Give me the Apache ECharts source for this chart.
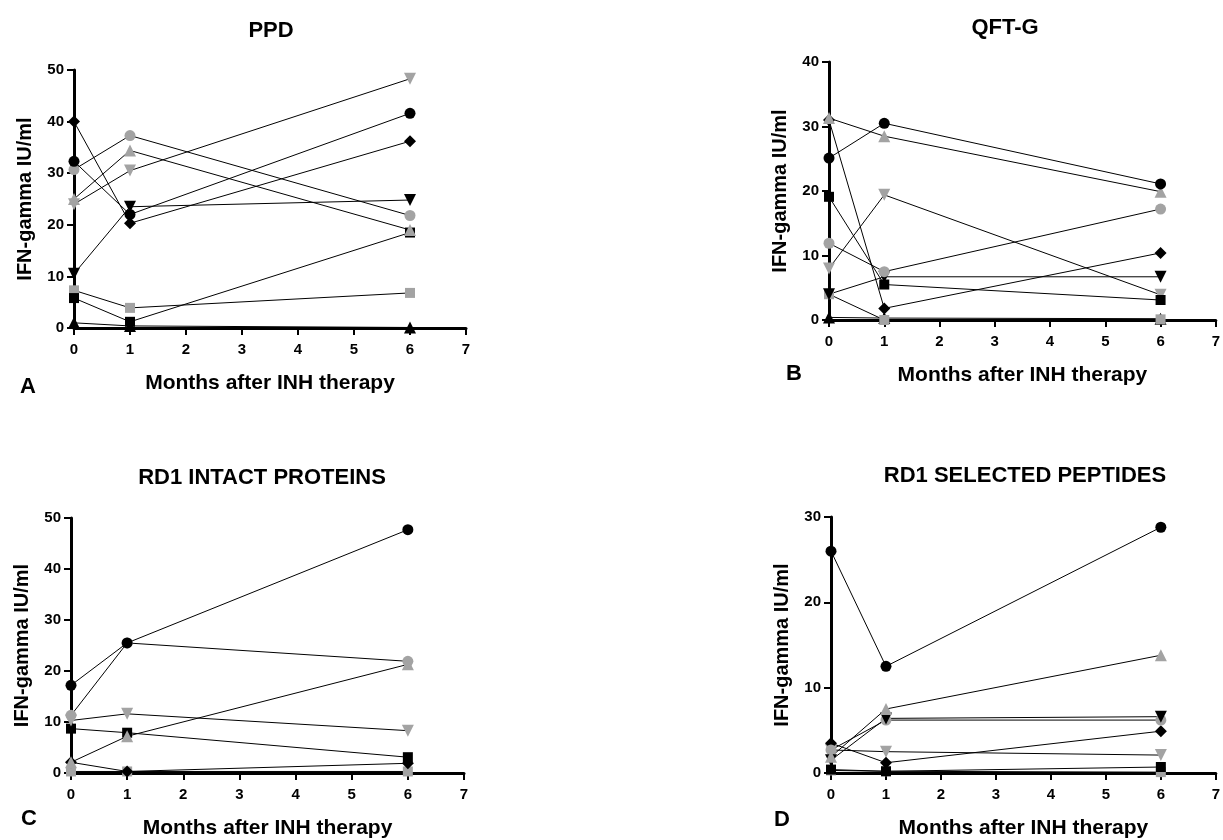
<!DOCTYPE html>
<html>
<head>
<meta charset="utf-8">
<script src="https://cdn.jsdelivr.net/npm/echarts@6/dist/echarts.min.js"></script>
<style>html,body{margin:0;padding:0;background:#fff}#c{width:1223px;height:840px}</style>
</head>
<body>
<div id="c"></div>
<script>
// ---- data ----
const months = [0, 1, 6];
const xTicks = [0, 1, 2, 3, 4, 5, 6, 7];
const panelTitles = ['PPD', 'QFT-G', 'RD1 INTACT PROTEINS', 'RD1 SELECTED PEPTIDES'];
const panelLetters = ['A', 'B', 'C', 'D'];
const yMax = [50, 40, 50, 30];
const xName = 'Months after INH therapy';
const yName = 'IFN-gamma IU/ml';

// Panel A: PPD
const ppdBlackCircle  = [32.3, 22.0, 41.6];
const ppdBlackDiamond = [40.0, 20.3, 36.2];
const ppdBlackInvTri  = [10.5, 23.5, 24.8];
const ppdBlackSquare  = [5.8, 1.2, 18.5];
const ppdBlackTri     = [1.0, 0.4, 0.1];
const ppdGrayCircle   = [30.7, 37.3, 21.8];
const ppdGrayTri      = [25.0, 34.4, 19.0];
const ppdGrayInvTri   = [24.0, 30.5, 48.3];
const ppdGraySquare   = [7.3, 3.9, 6.8];

// Panel B: QFT-G
const qftBlackCircle  = [25.1, 30.5, 21.1];
const qftGrayTri      = [31.3, 28.5, 19.9];
const qftBlackDiamond = [31.0, 1.8, 10.4];
const qftBlackSquare  = [19.1, 5.5, 3.1];
const qftGrayInvTri   = [8.0, 19.4, 3.9];
const qftGrayCircle   = [11.9, 7.5, 17.2];
const qftBlackInvTri  = [4.0, 6.7, 6.7];
const qftGraySquare   = [4.0, 0.0, 0.1];
const qftBlackTri     = [0.4, 0.3, 0.2];

// Panel C: RD1 intact proteins
const intBlackCircle  = [17.2, 25.5, 47.7];
const intGrayCircle   = [11.3, 25.5, 21.9];
const intGrayInvTri   = [10.3, 11.6, 8.3];
const intGrayTri      = [2.1, 7.2, 21.3];
const intBlackSquare  = [8.7, 7.9, 3.1];
const intBlackDiamond = [2.1, 0.3, 1.9];
const intGraySquare   = [0.3, 0.3, 0.3];

// Panel D: RD1 selected peptides
const pepBlackCircle  = [26.0, 12.5, 28.8];
const pepGrayTri      = [1.9, 7.5, 13.8];
const pepBlackInvTri  = [1.5, 6.4, 6.6];
const pepGrayCircle   = [2.7, 6.2, 6.2];
const pepBlackDiamond = [3.5, 1.2, 4.9];
const pepGrayInvTri   = [2.7, 2.5, 2.1];
const pepBlackSquare  = [0.4, 0.2, 0.7];
const pepGraySquare   = [0.3, 0.2, 0.1];

// ---- styling / construction ----
const BLACK = '#000000', GRAY = '#a3a3a3';
const INV_TRI = 'path://M0,0L10,0L5,9Z';
const marks = {
  circle: ['circle', 11], square: ['rect', 10], tri: ['triangle', 12],
  invTri: [INV_TRI, 12], diamond: ['diamond', 12]
};
const panels = [
  [[ppdGraySquare,'square',GRAY],[ppdBlackSquare,'square',BLACK],[ppdBlackTri,'tri',BLACK],
   [ppdGrayTri,'tri',GRAY],[ppdGrayInvTri,'invTri',GRAY],[ppdGrayCircle,'circle',GRAY],
   [ppdBlackInvTri,'invTri',BLACK],[ppdBlackDiamond,'diamond',BLACK],[ppdBlackCircle,'circle',BLACK]],
  [[qftBlackTri,'tri',BLACK],[qftGraySquare,'square',GRAY],[qftBlackInvTri,'invTri',BLACK],
   [qftGrayCircle,'circle',GRAY],[qftGrayInvTri,'invTri',GRAY],[qftBlackSquare,'square',BLACK],
   [qftBlackDiamond,'diamond',BLACK],[qftGrayTri,'tri',GRAY],[qftBlackCircle,'circle',BLACK]],
  [[intGraySquare,'square',GRAY],[intBlackDiamond,'diamond',BLACK],[intBlackSquare,'square',BLACK],
   [intGrayTri,'tri',GRAY],[intGrayInvTri,'invTri',GRAY],[intGrayCircle,'circle',GRAY],
   [intBlackCircle,'circle',BLACK]],
  [[pepGraySquare,'square',GRAY],[pepBlackSquare,'square',BLACK],[pepGrayInvTri,'invTri',GRAY],
   [pepBlackDiamond,'diamond',BLACK],[pepGrayCircle,'circle',GRAY],[pepBlackInvTri,'invTri',BLACK],
   [pepGrayTri,'tri',GRAY],[pepBlackCircle,'circle',BLACK]]
];

const grids = [
  {left: 74, top: 70, width: 392, height: 258},
  {left: 829, top: 62, width: 391, height: 258},
  {left: 71, top: 518, width: 393, height: 259},
  {left: 831, top: 517, width: 392, height: 260}
];
const FONT = 'Liberation Sans, Arial, sans-serif';
const axisLine = {show: true, onZero: false, lineStyle: {color: BLACK, width: 3}};
const axisTick = {show: true, length: 7, lineStyle: {color: BLACK, width: 2}};

const xAxes = [], yAxes = [], series = [];
grids.forEach((g, i) => {
  xAxes.push({
    gridIndex: i, type: 'value', min: xTicks[0], max: xTicks[xTicks.length - 1], interval: 1,
    axisLine, axisTick, splitLine: {show: false},
    axisLabel: {color: BLACK, fontFamily: FONT, fontWeight: 'bold', fontSize: 15, margin: 14},
    name: xName, nameLocation: 'middle', nameGap: 45,
    nameTextStyle: {color: BLACK, fontFamily: FONT, fontWeight: 'bold', fontSize: 21}
  });
  yAxes.push({
    gridIndex: i, type: 'value', min: 0, max: yMax[i], interval: 10,
    axisLine, axisTick, splitLine: {show: false},
    axisLabel: {color: BLACK, fontFamily: FONT, fontWeight: 'bold', fontSize: 15, margin: 10},
    name: yName, nameLocation: 'middle', nameGap: 39,
    nameTextStyle: {color: BLACK, fontFamily: FONT, fontWeight: 'bold', fontSize: 20}
  });
  panels[i].forEach(([vals, mk, col]) => {
    series.push({
      type: 'line', xAxisIndex: i, yAxisIndex: i,
      data: months.map((m, k) => [m, vals[k]]),
      symbol: marks[mk][0], symbolSize: marks[mk][1],
      itemStyle: {color: col},
      lineStyle: {color: BLACK, width: 1},
      clip: false, animation: false, silent: true
    });
  });
});

const titlePos = [[271, 31], [1005, 28], [262, 478], [1025, 476]];
const letterPos = [[28, 387], [794, 374], [29, 819], [782, 820]];
const graphic = [];
panelTitles.forEach((t, i) => {
  graphic.push({type: 'text', x: titlePos[i][0], y: titlePos[i][1],
    style: {text: t, font: 'bold 22px ' + FONT, fill: BLACK, textAlign: 'center', textVerticalAlign: 'middle'}});
  graphic.push({type: 'text', x: letterPos[i][0], y: letterPos[i][1],
    style: {text: panelLetters[i], font: 'bold 22px ' + FONT, fill: BLACK, textAlign: 'center', textVerticalAlign: 'middle'}});
});

const chart = echarts.init(document.getElementById('c'), null, {renderer: 'canvas'});
chart.setOption({
  backgroundColor: '#ffffff', animation: false,
  grid: grids, xAxis: xAxes, yAxis: yAxes, series, graphic
});
</script>
</body>
</html>
